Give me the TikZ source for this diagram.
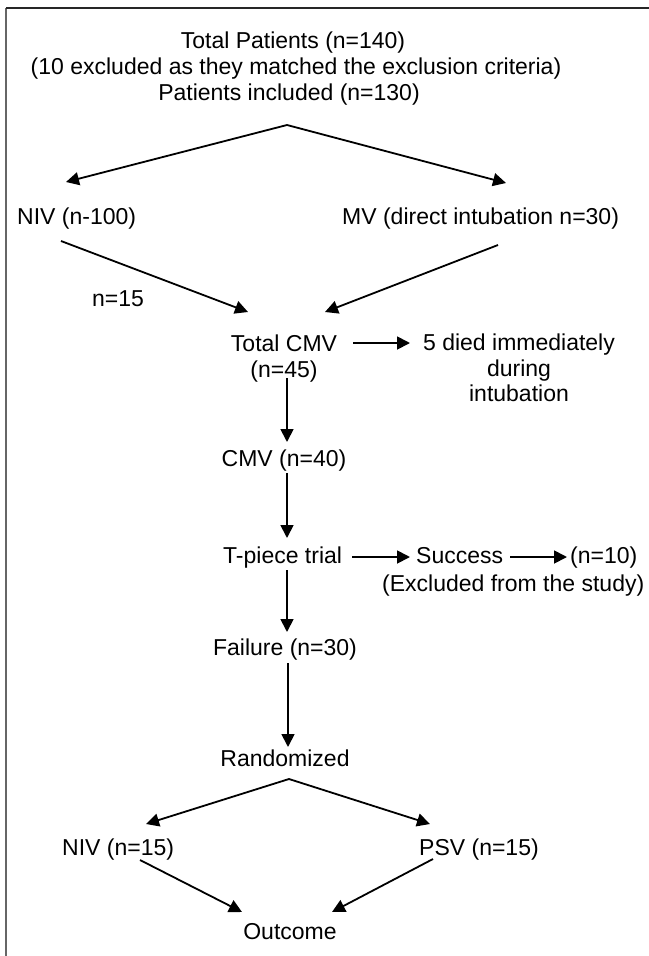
\documentclass[tikz,border=0pt]{standalone}
\usepackage{fontspec}
\setmainfont{Liberation Sans}
\usetikzlibrary{arrows.meta}
\begin{document}
\begin{tikzpicture}[x=1bp,y=-1bp,
  lbl/.style={inner sep=0pt,font=\fontsize{23bp}{26bp}\selectfont},
  arr/.style={line width=1.8bp,-{Triangle[length=13bp,width=13bp]}},
  frame/.style={line width=1.3bp}]
\useasboundingbox (0,0) rectangle (649,956);
\draw[frame,draw=black!60] (6,956) -- (6,8);
\draw[frame,draw=black!85] (6,8) -- (649,8);
% text nodes
\node[lbl,anchor=base] (top1) at (293,48) {Total Patients (n=140)};
\node[lbl,anchor=base] (top2) at (296,74) {(10 excluded as they matched the exclusion criteria)};
\node[lbl,anchor=base] (top3) at (289,100) {Patients included (n=130)};
\node[lbl,anchor=base west] (niv100) at (17,224) {NIV (n-100)};
\node[lbl,anchor=base west] (mv) at (342,224) {MV (direct intubation n=30)};
\node[lbl,anchor=base west] (n15) at (92,306) {n=15};
\node[lbl,anchor=base] (tcmv1) at (284,351) {Total CMV};
\node[lbl,anchor=base] (tcmv2) at (284,377) {(n=45)};
\node[lbl,anchor=base] (died1) at (519,350) {5 died immediately};
\node[lbl,anchor=base] (died2) at (519,376) {during};
\node[lbl,anchor=base] (died3) at (519,401) {intubation};
\node[lbl,anchor=base] (cmv40) at (284,466) {CMV (n=40)};
\node[lbl,anchor=base west] (tpiece) at (223,563) {T-piece trial};
\node[lbl,anchor=base west] (success) at (416,563) {Success};
\node[lbl,anchor=base west] (n10) at (570,563) {(n=10)};
\node[lbl,anchor=base west] (excl) at (382,591) {(Excluded from the study)};
\node[lbl,anchor=base] (fail) at (285,655) {Failure (n=30)};
\node[lbl,anchor=base] (rand) at (285,766) {Randomized};
\node[lbl,anchor=base west] (niv15) at (62,855) {NIV (n=15)};
\node[lbl,anchor=base west] (psv) at (419,855) {PSV (n=15)};
\node[lbl,anchor=base] (outc) at (290,939) {Outcome};
% connector points
\coordinate (apex1) at (287,125);
\coordinate (nivin) at (66,182);
\coordinate (mvin) at (506,183);
\coordinate (nivout) at (61,241);
\coordinate (mvout) at (498,245);
\coordinate (cmvinL) at (248,312);
\coordinate (cmvinR) at (325,312);
\coordinate (tcmvR) at (353,343);
\coordinate (diedL) at (410,343);
\coordinate (tcmvB) at (287,378);
\coordinate (cmv40T) at (287,442);
\coordinate (cmv40B) at (287,473);
\coordinate (tpT) at (287,538);
\coordinate (tpB) at (287,570);
\coordinate (failT) at (287,632);
\coordinate (failB) at (288,663);
\coordinate (randT) at (288,747);
\coordinate (tpR) at (352,557);
\coordinate (succL) at (410,557);
\coordinate (succR) at (510,557);
\coordinate (n10L) at (567,557);
\coordinate (apex2) at (289,779);
\coordinate (niv15in) at (146,824);
\coordinate (psvin) at (430,824);
\coordinate (niv15out) at (140,860);
\coordinate (psvout) at (433,859);
\coordinate (outL) at (242,912);
\coordinate (outR) at (332,912);
% connectors
\draw[arr] (apex1) -- (nivin);
\draw[arr] (apex1) -- (mvin);
\draw[arr] (nivout) -- (cmvinL);
\draw[arr] (mvout) -- (cmvinR);
\draw[arr] (tcmvR) -- (diedL);
\draw[arr] (tcmvB) -- (cmv40T);
\draw[arr] (cmv40B) -- (tpT);
\draw[arr] (tpB) -- (failT);
\draw[arr] (failB) -- (randT);
\draw[arr] (tpR) -- (succL);
\draw[arr] (succR) -- (n10L);
\draw[arr] (apex2) -- (niv15in);
\draw[arr] (apex2) -- (psvin);
\draw[arr] (niv15out) -- (outL);
\draw[arr] (psvout) -- (outR);
\end{tikzpicture}
\end{document}
